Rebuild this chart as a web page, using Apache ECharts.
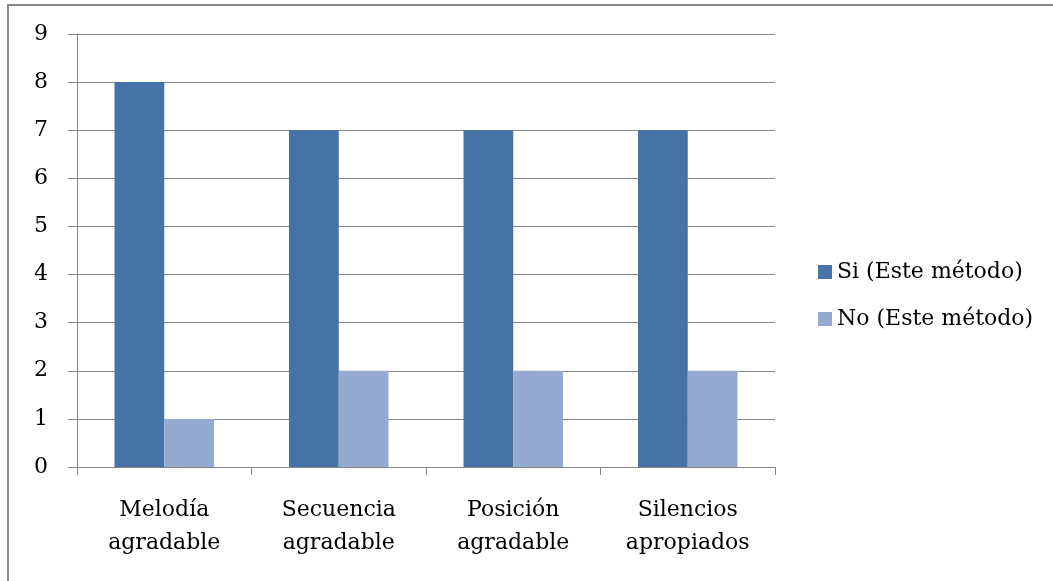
<!DOCTYPE html>
<html><head><meta charset="utf-8">
<script src="https://cdn.jsdelivr.net/npm/echarts@6/dist/echarts.min.js"></script>
<style>html,body{margin:0;padding:0;background:#fff}#c{width:1053px;height:581px}</style>
</head><body><div id="c"></div>
<script>
const categories = ["Melodía\nagradable", "Secuencia\nagradable", "Posición\nagradable", "Silencios\napropiados"];
const seriesNames = ["Si (Este método)", "No (Este método)"];
const siValues = [8, 7, 7, 7];
const noValues = [1, 2, 2, 2];
const yTicks = {min: 0, max: 9, interval: 1};

const chart = echarts.init(document.getElementById('c'));
const font = 'DejaVu Serif';
chart.setOption({
  animation: false,
  graphic: [{type: 'rect', shape: {x: 8, y: 5, width: 1100, height: 700}, style: {fill: 'none', stroke: '#8a8a8a', lineWidth: 2}}],
  grid: {left: 77, top: 34, right: 278, bottom: 114},
  legend: {
    orient: 'vertical', left: 813, top: 256, itemGap: 25, itemWidth: 14, itemHeight: 14,
    icon: 'rect', textStyle: {fontFamily: font, fontSize: 22, color: '#000'},
    data: seriesNames
  },
  xAxis: {
    type: 'category', data: categories, boundaryGap: true,
    axisLine: {lineStyle: {color: '#868686', width: 1}},
    axisTick: {show: true, length: 8, lineStyle: {color: '#868686'}},
    axisLabel: {fontFamily: font, fontSize: 22, color: '#000', lineHeight: 33, margin: 27}
  },
  yAxis: {
    type: 'value', min: yTicks.min, max: yTicks.max, interval: yTicks.interval,
    axisLine: {show: true, lineStyle: {color: '#868686', width: 1}},
    axisTick: {show: true, length: 9, lineStyle: {color: '#868686'}},
    splitLine: {lineStyle: {color: '#868686', width: 1}},
    axisLabel: {fontFamily: font, fontSize: 22, color: '#000', margin: 29}
  },
  series: [
    {name: seriesNames[0], type: 'bar', data: siValues, barGap: '0%', barCategoryGap: '43%', itemStyle: {color: '#4572A7'}},
    {name: seriesNames[1], type: 'bar', data: noValues, barGap: '0%', barCategoryGap: '43%', itemStyle: {color: '#96A9D0'}}
  ]
});
</script></body></html>
